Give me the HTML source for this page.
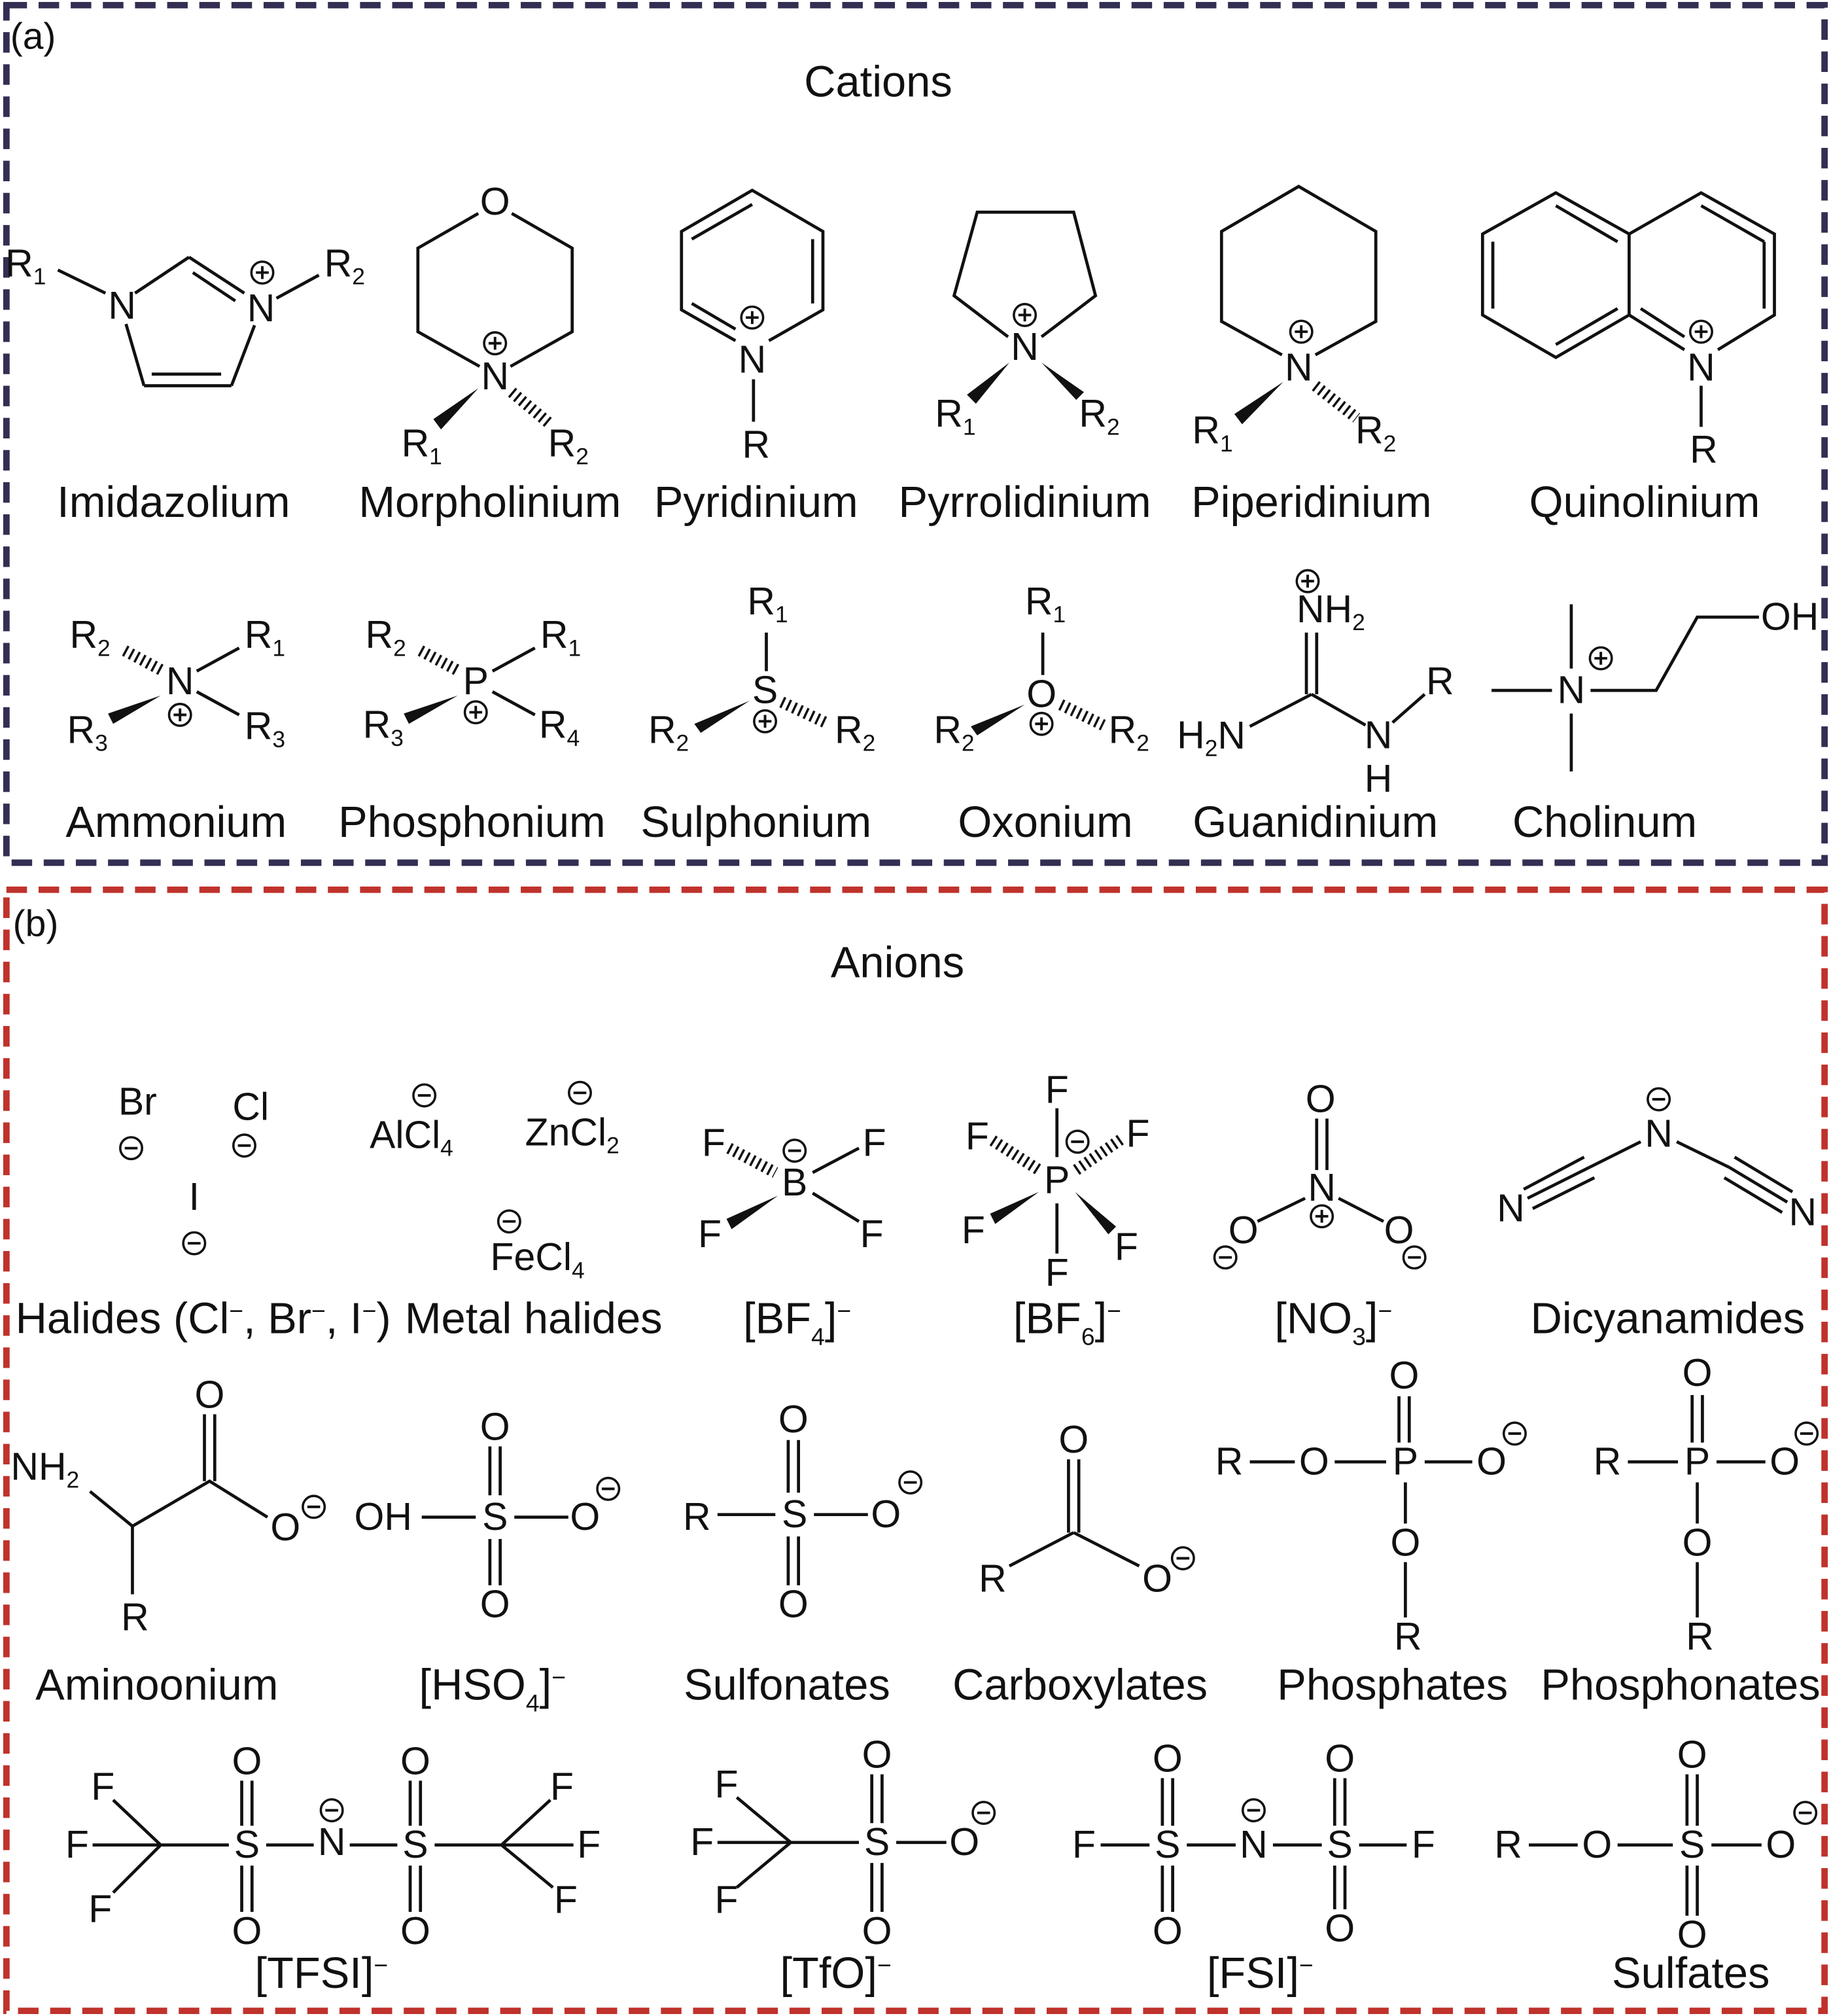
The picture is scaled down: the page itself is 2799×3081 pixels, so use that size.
<!DOCTYPE html>
<html><head><meta charset="utf-8"><style>
html,body{margin:0;padding:0;background:#fff}
svg{display:block}
text{font-family:"Liberation Sans",Arial,sans-serif;fill:#111}
.a{font-size:30px;text-anchor:middle;dominant-baseline:central}
.l{font-size:34px;text-anchor:middle}
.b line,.b polyline,.b polygon.o{stroke:#111;stroke-width:2.4;fill:none}
.h{stroke:#111;stroke-width:9;stroke-dasharray:1.8 3.2;fill:none}
.w{fill:#111;stroke:none}
</style></head><body>
<svg width="2799" height="3081" viewBox="0 0 1424 1568" preserveAspectRatio="none" xmlns="http://www.w3.org/2000/svg">
<defs>
<g id="m"><circle r="8.5" fill="#fff" stroke="#111" stroke-width="1.8"/><line x1="-5" x2="5" y1="0" y2="0" stroke="#111" stroke-width="2"/></g>
<g id="p"><circle r="8.5" fill="#fff" stroke="#111" stroke-width="1.8"/><line x1="-5" x2="5" stroke="#111" stroke-width="2"/><line y1="-5" y2="5" stroke="#111" stroke-width="2"/></g>
</defs>
<rect x="0" y="0" width="1424" height="1568" fill="#fff"/>
<rect x="5" y="4" width="1414" height="667" fill="none" stroke="#322f52" stroke-width="5" stroke-dasharray="16 9"/>
<rect x="5" y="692" width="1414" height="872" fill="none" stroke="#c0322c" stroke-width="5" stroke-dasharray="16 9"/>
<text x="8" y="38" style="font-size:29px">(a)</text>
<text x="683" y="75" class="l">Cations</text>
<text x="10" y="728" style="font-size:29px">(b)</text>
<text x="698" y="760" class="l">Anions</text>

<g class="b">
<line x1="45" y1="210" x2="82" y2="228"/>
<line x1="105" y1="228" x2="147" y2="200"/>
<line x1="147" y1="200" x2="190" y2="228"/><line x1="150" y1="212" x2="183" y2="234"/>
<line x1="198" y1="253" x2="180" y2="300"/>
<line x1="180" y1="300" x2="112" y2="300"/><line x1="172" y1="291" x2="118" y2="291"/>
<line x1="112" y1="300" x2="98" y2="252"/>
<line x1="215" y1="232" x2="248" y2="214"/>
<polyline points="372,166 325,193 325,258 373,285"/>
<polyline points="398,166 445,193 445,258 397,285"/>
<polyline points="572,265 530,241 530,180 585,148 640,180 640,241 598,265"/>
<line x1="538" y1="186" x2="585" y2="159"/><line x1="632" y1="186" x2="632" y2="236"/><line x1="538" y1="236" x2="572" y2="256"/>
<line x1="586" y1="295" x2="586" y2="328"/>
<polyline points="784,262 742,230 760,165 835,165 852,230 810,262"/>
<polyline points="997,276 950,250 950,180 1010,145 1070,180 1070,250 1023,276"/>
<polyline points="1267,182 1210,150 1153,182 1153,245 1210,278 1267,245 1267,182 1323,150 1380,182 1380,245 1336,272"/>
<line x1="1267" y1="245" x2="1310" y2="272"/>
<line x1="1161" y1="188" x2="1161" y2="240"/><line x1="1210" y1="160" x2="1258" y2="188"/><line x1="1210" y1="268" x2="1258" y2="240"/>
<line x1="1323" y1="160" x2="1372" y2="188"/><line x1="1372" y1="188" x2="1372" y2="240"/><line x1="1276" y1="240" x2="1310" y2="262"/>
<line x1="1323" y1="300" x2="1323" y2="332"/>
<line x1="153" y1="522" x2="186" y2="504"/><line x1="153" y1="538" x2="186" y2="556"/>
<line x1="383" y1="522" x2="416" y2="504"/><line x1="383" y1="538" x2="416" y2="556"/>
<line x1="596" y1="492" x2="596" y2="522"/>
<line x1="811" y1="492" x2="811" y2="525"/>
<line x1="1016" y1="492" x2="1016" y2="540"/><line x1="1024" y1="492" x2="1024" y2="540"/>
<line x1="1020" y1="540" x2="972" y2="565"/><line x1="1020" y1="540" x2="1062" y2="564"/>
<line x1="1083" y1="562" x2="1108" y2="540"/>
<line x1="1160" y1="537" x2="1207" y2="537"/><line x1="1222" y1="470" x2="1222" y2="520"/><line x1="1222" y1="555" x2="1222" y2="600"/>
<polyline points="1237,537 1288,537 1320,480 1368,480"/>
</g>
<polygon class="w" points="372,302 337,326 343,334"/>
<line class="h" x1="398" y1="305" x2="428" y2="330"/>
<polygon class="w" points="785,282 752,307 759,314"/>
<polygon class="w" points="810,282 837,311 843,305"/>
<polygon class="w" points="998,297 960,322 966,330"/>
<line class="h" x1="1023" y1="300" x2="1055" y2="325"/>
<line class="h" x1="97" y1="506" x2="127" y2="522"/>
<polygon class="w" points="125,541 84,555 88,563"/>
<line class="h" x1="327" y1="506" x2="357" y2="522"/>
<polygon class="w" points="356,541 314,555 318,563"/>
<polygon class="w" points="583,545 540,563 545,570"/>
<line class="h" x1="608" y1="546" x2="642" y2="562"/>
<polygon class="w" points="797,548 755,565 760,572"/>
<line class="h" x1="825" y1="548" x2="858" y2="564"/>

<text class="a" x="20" y="205">R<tspan dy="10" style="font-size:18px">1</tspan></text>
<text class="a" x="95" y="238">N</text>
<text class="a" x="203" y="240">N</text><use href="#p" x="204" y="212"/>
<text class="a" x="268" y="205">R<tspan dy="10" style="font-size:18px">2</tspan></text>
<text class="a" x="385" y="157">O</text>
<text class="a" x="385" y="293">N</text><use href="#p" x="385" y="267"/>
<text class="a" x="328" y="345">R<tspan dy="10" style="font-size:18px">1</tspan></text>
<text class="a" x="442" y="345">R<tspan dy="10" style="font-size:18px">2</tspan></text>
<text class="a" x="585" y="280">N</text><use href="#p" x="585" y="247"/>
<text class="a" x="588" y="346">R</text>
<text class="a" x="797" y="270">N</text><use href="#p" x="797" y="245"/>
<text class="a" x="743" y="322">R<tspan dy="10" style="font-size:18px">1</tspan></text>
<text class="a" x="855" y="322">R<tspan dy="10" style="font-size:18px">2</tspan></text>
<text class="a" x="1010" y="286">N</text><use href="#p" x="1012" y="258"/>
<text class="a" x="943" y="335">R<tspan dy="10" style="font-size:18px">1</tspan></text>
<text class="a" x="1070" y="335">R<tspan dy="10" style="font-size:18px">2</tspan></text>
<text class="a" x="1323" y="286">N</text><use href="#p" x="1323" y="258"/>
<text class="a" x="1325" y="350">R</text>
<text class="l" x="135" y="402">Imidazolium</text>
<text class="l" x="381" y="402">Morpholinium</text>
<text class="l" x="588" y="402">Pyridinium</text>
<text class="l" x="797" y="402">Pyrrolidinium</text>
<text class="l" x="1020" y="402">Piperidinium</text>
<text class="l" x="1279" y="402">Quinolinium</text>

<text class="a" x="70" y="494">R<tspan dy="10" style="font-size:18px">2</tspan></text>
<text class="a" x="206" y="494">R<tspan dy="10" style="font-size:18px">1</tspan></text>
<text class="a" x="140" y="530">N</text><use href="#p" x="140" y="556"/>
<text class="a" x="68" y="568">R<tspan dy="10" style="font-size:18px">3</tspan></text>
<text class="a" x="206" y="565">R<tspan dy="10" style="font-size:18px">3</tspan></text>
<text class="a" x="300" y="494">R<tspan dy="10" style="font-size:18px">2</tspan></text>
<text class="a" x="436" y="494">R<tspan dy="10" style="font-size:18px">1</tspan></text>
<text class="a" x="370" y="530">P</text><use href="#p" x="370" y="554"/>
<text class="a" x="298" y="564">R<tspan dy="10" style="font-size:18px">3</tspan></text>
<text class="a" x="435" y="564">R<tspan dy="10" style="font-size:18px">4</tspan></text>
<text class="a" x="597" y="468">R<tspan dy="10" style="font-size:18px">1</tspan></text>
<text class="a" x="595" y="537">S</text><use href="#p" x="595" y="561"/>
<text class="a" x="520" y="568">R<tspan dy="10" style="font-size:18px">2</tspan></text>
<text class="a" x="665" y="568">R<tspan dy="10" style="font-size:18px">2</tspan></text>
<text class="a" x="813" y="468">R<tspan dy="10" style="font-size:18px">1</tspan></text>
<text class="a" x="810" y="540">O</text><use href="#p" x="810" y="563"/>
<text class="a" x="742" y="568">R<tspan dy="10" style="font-size:18px">2</tspan></text>
<text class="a" x="878" y="568">R<tspan dy="10" style="font-size:18px">2</tspan></text>
<use href="#p" x="1017" y="452"/>
<text class="a" x="1035" y="474">NH<tspan dy="10" style="font-size:18px">2</tspan></text>
<text class="a" x="942" y="572">H<tspan dy="10" style="font-size:18px">2</tspan><tspan dy="-10">N</tspan></text>
<text class="a" x="1072" y="572">N</text>
<text class="a" x="1072" y="606">H</text>
<text class="a" x="1120" y="530">R</text>
<text class="a" x="1222" y="537">N</text><use href="#p" x="1245" y="512"/>
<text class="a" x="1392" y="480">OH</text>
<text class="l" x="137" y="651">Ammonium</text>
<text class="l" x="367" y="651">Phosphonium</text>
<text class="l" x="588" y="651">Sulphonium</text>
<text class="l" x="813" y="651">Oxonium</text>
<text class="l" x="1023" y="651">Guanidinium</text>
<text class="l" x="1248" y="651">Cholinum</text>

<text class="a" x="107" y="857">Br</text><use href="#m" x="102" y="893"/>
<text class="a" x="195" y="861">Cl</text><use href="#m" x="190" y="891"/>
<text class="a" x="151" y="931">I</text><use href="#m" x="151" y="967"/>
<text class="a" x="320" y="883">AlCl<tspan dy="10" style="font-size:18px">4</tspan></text><use href="#m" x="330" y="852"/>
<text class="a" x="445" y="881">ZnCl<tspan dy="10" style="font-size:18px">2</tspan></text><use href="#m" x="451" y="850"/>
<text class="a" x="418" y="978">FeCl<tspan dy="10" style="font-size:18px">4</tspan></text><use href="#m" x="396" y="950"/>
<text class="l" x="12" y="1037" style="text-anchor:start">Halides (Cl<tspan dy="-11" style="font-size:19px">−</tspan><tspan dy="11">, Br</tspan><tspan dy="-11" style="font-size:19px">−</tspan><tspan dy="11">, I</tspan><tspan dy="-11" style="font-size:19px">−</tspan><tspan dy="11">)</tspan></text>
<text class="l" x="415" y="1037">Metal halides</text>

<g class="b">
<line x1="632" y1="912" x2="668" y2="893"/><line x1="632" y1="928" x2="668" y2="950"/>
<line x1="822" y1="862" x2="822" y2="900"/><line x1="822" y1="936" x2="822" y2="975"/>
<line x1="1024" y1="870" x2="1024" y2="910"/><line x1="1032" y1="870" x2="1032" y2="910"/>
<line x1="1015" y1="932" x2="978" y2="950"/><line x1="1041" y1="932" x2="1076" y2="950"/>
<line x1="1276" y1="888" x2="1236" y2="908"/>
<line x1="1236" y1="908" x2="1188" y2="932"/><line x1="1232" y1="900" x2="1185" y2="925"/><line x1="1240" y1="916" x2="1192" y2="940"/>
<line x1="1304" y1="888" x2="1345" y2="908"/>
<line x1="1345" y1="908" x2="1390" y2="935"/><line x1="1349" y1="900" x2="1394" y2="927"/><line x1="1341" y1="916" x2="1386" y2="943"/>
</g>
<line class="h" x1="567" y1="893" x2="603" y2="912"/>
<polygon class="w" points="605,930 565,948 569,956"/>
<line class="h" x1="772" y1="887" x2="808" y2="910"/>
<line class="h" x1="837" y1="910" x2="872" y2="886"/>
<polygon class="w" points="808,927 770,944 774,952"/>
<polygon class="w" points="836,927 862,960 868,954"/>
<text class="a" x="618" y="920">B</text><use href="#m" x="618" y="895"/>
<text class="a" x="555" y="889">F</text><text class="a" x="680" y="889">F</text>
<text class="a" x="552" y="960">F</text><text class="a" x="678" y="960">F</text>
<text class="a" x="822" y="918">P</text><use href="#m" x="838" y="888"/>
<text class="a" x="822" y="848">F</text><text class="a" x="822" y="990">F</text>
<text class="a" x="760" y="884">F</text><text class="a" x="885" y="882">F</text>
<text class="a" x="757" y="957">F</text><text class="a" x="876" y="970">F</text>
<text class="a" x="1028" y="924">N</text><use href="#p" x="1028" y="946"/>
<text class="a" x="1027" y="855">O</text>
<text class="a" x="967" y="957">O</text><use href="#m" x="953" y="978"/>
<text class="a" x="1088" y="957">O</text><use href="#m" x="1100" y="978"/>
<text class="a" x="1290" y="882">N</text><use href="#m" x="1290" y="855"/>
<text class="a" x="1175" y="940">N</text><text class="a" x="1402" y="943">N</text>
<text class="l" x="620" y="1037">[BF<tspan dy="9" style="font-size:19px">4</tspan><tspan dy="-9">]</tspan><tspan dy="-11" style="font-size:19px">−</tspan></text>
<text class="l" x="830" y="1037">[BF<tspan dy="9" style="font-size:19px">6</tspan><tspan dy="-9">]</tspan><tspan dy="-11" style="font-size:19px">−</tspan></text>
<text class="l" x="1037" y="1037">[NO<tspan dy="9" style="font-size:19px">3</tspan><tspan dy="-9">]</tspan><tspan dy="-11" style="font-size:19px">−</tspan></text>
<text class="l" x="1297" y="1037">Dicyanamides</text>

<g class="b">
<polyline points="70,1160 103,1187 163,1152 208,1180"/>
<line x1="159" y1="1100" x2="159" y2="1152"/><line x1="167" y1="1100" x2="167" y2="1152"/>
<line x1="103" y1="1187" x2="103" y2="1240"/>
<line x1="328" y1="1180" x2="370" y2="1180"/><line x1="400" y1="1180" x2="442" y2="1180"/>
<line x1="381" y1="1125" x2="381" y2="1163"/><line x1="389" y1="1125" x2="389" y2="1163"/>
<line x1="381" y1="1197" x2="381" y2="1233"/><line x1="389" y1="1197" x2="389" y2="1233"/>
<line x1="558" y1="1178" x2="603" y2="1178"/><line x1="633" y1="1178" x2="675" y2="1178"/>
<line x1="613" y1="1120" x2="613" y2="1161"/><line x1="621" y1="1120" x2="621" y2="1161"/>
<line x1="613" y1="1195" x2="613" y2="1233"/><line x1="621" y1="1195" x2="621" y2="1233"/>
<line x1="831" y1="1135" x2="831" y2="1192"/><line x1="839" y1="1135" x2="839" y2="1192"/>
<line x1="835" y1="1192" x2="785" y2="1218"/><line x1="835" y1="1192" x2="886" y2="1218"/>
<line x1="972" y1="1137" x2="1007" y2="1137"/><line x1="1038" y1="1137" x2="1078" y2="1137"/><line x1="1108" y1="1137" x2="1145" y2="1137"/>
<line x1="1088" y1="1086" x2="1088" y2="1122"/><line x1="1096" y1="1086" x2="1096" y2="1122"/>
<line x1="1093" y1="1153" x2="1093" y2="1185"/><line x1="1093" y1="1215" x2="1093" y2="1258"/>
<line x1="1266" y1="1137" x2="1305" y2="1137"/><line x1="1335" y1="1137" x2="1373" y2="1137"/>
<line x1="1316" y1="1085" x2="1316" y2="1122"/><line x1="1324" y1="1085" x2="1324" y2="1122"/>
<line x1="1320" y1="1153" x2="1320" y2="1185"/><line x1="1320" y1="1215" x2="1320" y2="1258"/>
</g>
<text class="a" x="35" y="1141">NH<tspan dy="10" style="font-size:18px">2</tspan></text>
<text class="a" x="163" y="1085">O</text>
<text class="a" x="222" y="1188">O</text><use href="#m" x="244" y="1172"/>
<text class="a" x="105" y="1258">R</text>
<text class="a" x="298" y="1180">OH</text>
<text class="a" x="385" y="1180">S</text>
<text class="a" x="385" y="1110">O</text><text class="a" x="385" y="1248">O</text>
<text class="a" x="455" y="1180">O</text><use href="#m" x="473" y="1158"/>
<text class="a" x="542" y="1180">R</text>
<text class="a" x="618" y="1178">S</text>
<text class="a" x="617" y="1104">O</text><text class="a" x="617" y="1248">O</text>
<text class="a" x="689" y="1178">O</text><use href="#m" x="708" y="1153"/>
<text class="a" x="835" y="1120">O</text>
<text class="a" x="772" y="1228">R</text>
<text class="a" x="900" y="1228">O</text><use href="#m" x="920" y="1212"/>
<text class="a" x="956" y="1137">R</text><text class="a" x="1022" y="1137">O</text>
<text class="a" x="1093" y="1137">P</text><text class="a" x="1160" y="1137">O</text><use href="#m" x="1178" y="1115"/>
<text class="a" x="1092" y="1070">O</text><text class="a" x="1093" y="1200">O</text><text class="a" x="1095" y="1273">R</text>
<text class="a" x="1250" y="1137">R</text><text class="a" x="1320" y="1137">P</text>
<text class="a" x="1388" y="1137">O</text><use href="#m" x="1405" y="1115"/>
<text class="a" x="1320" y="1068">O</text><text class="a" x="1320" y="1200">O</text><text class="a" x="1322" y="1273">R</text>
<text class="l" x="122" y="1322">Aminoonium</text>
<text class="l" x="383" y="1322">[HSO<tspan dy="9" style="font-size:19px">4</tspan><tspan dy="-9">]</tspan><tspan dy="-11" style="font-size:19px">−</tspan></text>
<text class="l" x="612" y="1322">Sulfonates</text>
<text class="l" x="840" y="1322">Carboxylates</text>
<text class="l" x="1083" y="1322">Phosphates</text>
<text class="l" x="1307" y="1322">Phosphonates</text>

<g class="b">
<line x1="88" y1="1400" x2="125" y2="1435"/><line x1="72" y1="1435" x2="125" y2="1435"/><line x1="88" y1="1472" x2="125" y2="1435"/>
<line x1="125" y1="1435" x2="178" y2="1435"/><line x1="207" y1="1435" x2="244" y2="1435"/><line x1="272" y1="1435" x2="309" y2="1435"/><line x1="338" y1="1435" x2="390" y2="1435"/>
<line x1="390" y1="1435" x2="428" y2="1400"/><line x1="390" y1="1435" x2="446" y2="1435"/><line x1="390" y1="1435" x2="430" y2="1468"/>
<line x1="188" y1="1385" x2="188" y2="1420"/><line x1="196" y1="1385" x2="196" y2="1420"/><line x1="188" y1="1451" x2="188" y2="1487"/><line x1="196" y1="1451" x2="196" y2="1487"/>
<line x1="319" y1="1385" x2="319" y2="1420"/><line x1="327" y1="1385" x2="327" y2="1420"/><line x1="319" y1="1451" x2="319" y2="1487"/><line x1="327" y1="1451" x2="327" y2="1487"/>
<line x1="573" y1="1398" x2="615" y2="1433"/><line x1="558" y1="1433" x2="615" y2="1433"/><line x1="573" y1="1468" x2="615" y2="1433"/>
<line x1="615" y1="1433" x2="668" y2="1433"/><line x1="697" y1="1433" x2="736" y2="1433"/>
<line x1="678" y1="1380" x2="678" y2="1418"/><line x1="686" y1="1380" x2="686" y2="1418"/><line x1="678" y1="1449" x2="678" y2="1487"/><line x1="686" y1="1449" x2="686" y2="1487"/>
<line x1="856" y1="1435" x2="894" y2="1435"/><line x1="923" y1="1435" x2="961" y2="1435"/><line x1="990" y1="1435" x2="1028" y2="1435"/><line x1="1057" y1="1435" x2="1094" y2="1435"/>
<line x1="904" y1="1383" x2="904" y2="1420"/><line x1="912" y1="1383" x2="912" y2="1420"/><line x1="904" y1="1451" x2="904" y2="1487"/><line x1="912" y1="1451" x2="912" y2="1487"/>
<line x1="1038" y1="1383" x2="1038" y2="1420"/><line x1="1046" y1="1383" x2="1046" y2="1420"/><line x1="1038" y1="1451" x2="1038" y2="1485"/><line x1="1046" y1="1451" x2="1046" y2="1485"/>
<line x1="1189" y1="1435" x2="1227" y2="1435"/><line x1="1258" y1="1435" x2="1301" y2="1435"/><line x1="1331" y1="1435" x2="1370" y2="1435"/>
<line x1="1312" y1="1380" x2="1312" y2="1420"/><line x1="1320" y1="1380" x2="1320" y2="1420"/><line x1="1312" y1="1451" x2="1312" y2="1490"/><line x1="1320" y1="1451" x2="1320" y2="1490"/>
</g>
<text class="a" x="80" y="1390">F</text><text class="a" x="60" y="1435">F</text><text class="a" x="78" y="1485">F</text>
<text class="a" x="192" y="1435">S</text><text class="a" x="192" y="1370">O</text><text class="a" x="192" y="1502">O</text>
<text class="a" x="258" y="1433">N</text><use href="#m" x="258" y="1408"/>
<text class="a" x="323" y="1435">S</text><text class="a" x="323" y="1370">O</text><text class="a" x="323" y="1502">O</text>
<text class="a" x="437" y="1390">F</text><text class="a" x="458" y="1435">F</text><text class="a" x="440" y="1478">F</text>
<text class="a" x="565" y="1388">F</text><text class="a" x="546" y="1433">F</text><text class="a" x="565" y="1478">F</text>
<text class="a" x="682" y="1433">S</text><text class="a" x="682" y="1365">O</text><text class="a" x="682" y="1502">O</text>
<text class="a" x="750" y="1433">O</text><use href="#m" x="765" y="1410"/>
<text class="a" x="843" y="1435">F</text>
<text class="a" x="908" y="1435">S</text><text class="a" x="908" y="1368">O</text><text class="a" x="908" y="1502">O</text>
<text class="a" x="975" y="1435">N</text><use href="#m" x="975" y="1408"/>
<text class="a" x="1042" y="1435">S</text><text class="a" x="1042" y="1368">O</text><text class="a" x="1042" y="1500">O</text>
<text class="a" x="1107" y="1435">F</text>
<text class="a" x="1173" y="1435">R</text><text class="a" x="1242" y="1435">O</text>
<text class="a" x="1316" y="1435">S</text><text class="a" x="1316" y="1365">O</text><text class="a" x="1316" y="1505">O</text>
<text class="a" x="1385" y="1435">O</text><use href="#m" x="1404" y="1410"/>
<text class="l" x="250" y="1546">[TFSI]<tspan dy="-11" style="font-size:19px">−</tspan></text>
<text class="l" x="650" y="1546">[TfO]<tspan dy="-11" style="font-size:19px">−</tspan></text>
<text class="l" x="980" y="1546">[FSI]<tspan dy="-11" style="font-size:19px">−</tspan></text>
<text class="l" x="1315" y="1546">Sulfates</text>
</svg>
</body></html>
